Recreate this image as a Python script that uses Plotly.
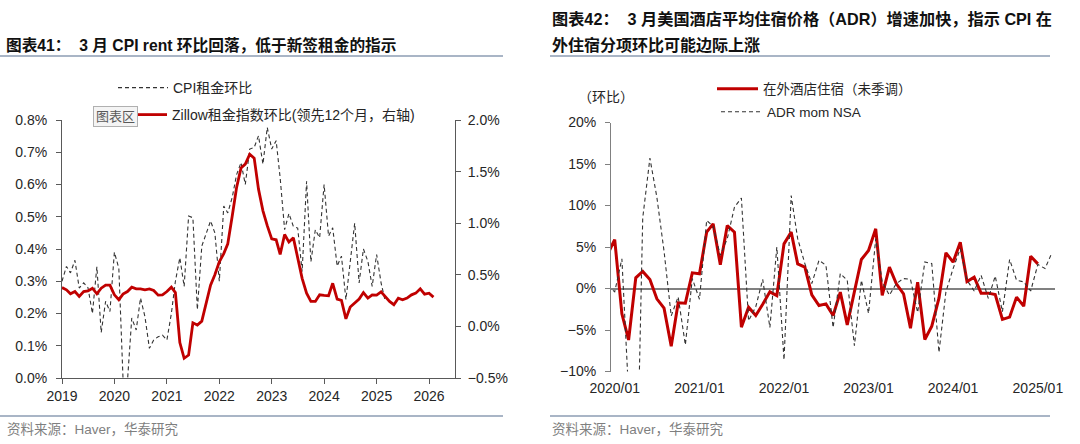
import pandas as pd
import plotly.graph_objects as go

# ---------------- data: left chart (monthly, from 2019-01) ----------------
cpi_rent_mom = [
    0.30, 0.346, 0.326, 0.365, 0.279, 0.295, 0.28, 0.20, 0.345, 0.141, 0.238, 0.206,
    0.39, 0.34, 0.00, -0.01, 0.186, 0.149, 0.248, 0.19, 0.092, 0.118, 0.128, 0.133,
    0.118, 0.20, 0.30, 0.373, 0.284, 0.502, 0.497, 0.212, 0.409, 0.45, 0.487, 0.45,
    0.30, 0.533, 0.512, 0.56, 0.63, 0.668, 0.60, 0.71, 0.715, 0.751, 0.663, 0.777,
    0.71, 0.736, 0.62, 0.46, 0.51, 0.47, 0.465, 0.33, 0.61, 0.36, 0.46, 0.435,
    0.60, 0.44, 0.466, 0.347, 0.378, 0.243, 0.362, 0.48, 0.295, 0.40, 0.362, 0.284,
    0.383, 0.295, 0.24,
]
zillow_mom_lead12 = [
    0.376, 0.354, 0.316, 0.338, 0.29, 0.338, 0.344, 0.37, 0.316, 0.37, 0.40, 0.40,
    0.306, 0.258, 0.313, 0.338, 0.38, 0.364, 0.364, 0.354, 0.364, 0.348, 0.303, 0.306,
    0.338, 0.38, 0.328, -0.156, -0.309, -0.278, 0.035, 0.013, 0.051, 0.226, 0.40, 0.50,
    0.625, 0.705, 0.80, 1.07, 1.343, 1.534, 1.573, 1.668, 1.63, 1.33, 1.12, 0.976,
    0.848, 0.839, 0.698, 0.89, 0.817, 0.858, 0.673, 0.466, 0.322, 0.242, 0.242, 0.306,
    0.30, 0.297, 0.418, 0.265, 0.252, 0.073, 0.188, 0.227, 0.265, 0.328, 0.274, 0.306,
    0.303, 0.335, 0.29, 0.242, 0.21, 0.274, 0.258, 0.274, 0.306, 0.322, 0.364, 0.313,
    0.322, 0.284,
]
cpi_dates = pd.date_range("2019-01-01", periods=len(cpi_rent_mom), freq="MS")
zillow_dates = pd.date_range("2019-01-01", periods=len(zillow_mom_lead12), freq="MS")

# ---------------- data: right chart (monthly, from 2019-12) ----------------
lodging_nsa = [
    4.1, 5.9, -3.05, -6.2, 1.29, 2.05, 1.08, -1.24, -2.37, -6.95, -1.73, -1.77, 1.89,
    1.77, 6.79, 7.79, 2.85, 7.59, 6.79, -4.66, -2.25, -3.25, -1.9, -0.4, -0.85,
    5.38, 6.79, 2.97, 2.57, -0.76, -2.05, -1.85, -3.25, -0.44, -4.38, -0.4, 3.49,
    4.58, 7.19, -0.84, 2.57, 0.56, -0.64, -4.78, 0.76, -6.14, -4.54, -1.16, 4.3,
    3.17, 5.58, 0.84, 1.37, -0.56, -0.56, -0.72, -3.73, -3.45, -1.04, -2.13, 3.89,
    2.97,
]
adr_mom_nsa = [
    0.3, -0.4, 3.57, -13.0, -30.0, 8.5, 15.7, 11.0, 4.5, -3.3, -1.0, -6.8, 1.2,
    -1.3, 8.2, 7.5, 4.0, 6.0, 9.8, 10.9, -3.9, -2.2, 1.1, -4.7, 5.0,
    -8.6, 11.2, 6.0, 3.0, 0.6, 3.4, 2.8, -4.7, 1.8, 1.0, -6.9, 1.0,
    -3.0, 6.0, 0.8, -0.8, 0.6, 1.2, 1.1, -2.9, 3.2, 3.0, -7.7, -0.4,
    2.4, 4.8, 1.0, -0.3, 1.6, -1.2, 1.5, -2.8, 3.5, 1.0, 0.8, -0.3,
    2.9, 2.4, 4.2,
]
lodging_dates = pd.date_range("2019-12-01", periods=len(lodging_nsa), freq="MS")
adr_dates = pd.date_range("2019-12-01", periods=len(adr_mom_nsa), freq="MS")

# ---------------- helpers ----------------
W, H = 1080, 444
def px(x):
    return x / W
def py(y):
    return 1 - y / H

FONT = "Liberation Sans, Arial, Noto Sans CJK SC, sans-serif"
RED = "#C00000"
AX = "#595959"
TXT = "#262626"

fig = go.Figure()

fig.add_trace(go.Scatter(
    x=cpi_dates, y=cpi_rent_mom, name="CPI租金环比", mode="lines",
    line=dict(color="#333333", width=1.1, dash="4px,3px"),
    xaxis="x", yaxis="y", legend="legend", showlegend=True,
))
fig.add_trace(go.Scatter(
    x=zillow_dates, y=zillow_mom_lead12, name="Zillow租金指数环比(领先12个月，右轴)",
    mode="lines", line=dict(color=RED, width=2.8),
    xaxis="x", yaxis="y2", legend="legend2", showlegend=True,
))
fig.add_trace(go.Scatter(
    x=lodging_dates, y=lodging_nsa, name="在外酒店住宿（未季调）", mode="lines",
    line=dict(color=RED, width=3),
    xaxis="x2", yaxis="y3", legend="legend3", showlegend=True,
))
fig.add_trace(go.Scatter(
    x=adr_dates, y=adr_mom_nsa, name="ADR mom NSA", mode="lines",
    line=dict(color="#333333", width=1.1, dash="4px,3px"),
    xaxis="x2", yaxis="y3", legend="legend4", showlegend=True,
))

axis_common = dict(showgrid=False, zeroline=False, automargin=False,
                   tickfont=dict(size=14, color=TXT, family=FONT))

fig.update_layout(
    width=W, height=H, showlegend=True,
    margin=dict(l=0, r=0, t=0, b=0, autoexpand=False),
    paper_bgcolor="white", plot_bgcolor="white",
    font=dict(family=FONT, color=TXT),
    xaxis=dict(
        domain=[px(62), px(455)], type="date",
        range=["2019-01-01", "2026-07-01"],
        tick0="2019-01-01", dtick="M12", tickformat="%Y",
        ticks="outside", ticklen=5, tickcolor=AX,
        showline=True, linecolor=AX, linewidth=1, anchor="y",
        **axis_common,
    ),
    yaxis=dict(
        domain=[py(378), py(120)], range=[0, 0.8], dtick=0.1,
        tickformat=".1f", ticksuffix="%",
        ticks="outside", ticklen=5, tickcolor=AX, ticklabelstandoff=6,
        showline=True, linecolor=AX, linewidth=1, anchor="x",
        **axis_common,
    ),
    yaxis2=dict(
        overlaying="y", side="right", anchor="x",
        range=[-0.5, 2.0], dtick=0.5, tickformat=".1f", ticksuffix="%",
        ticks="outside", ticklen=5, tickcolor=AX, ticklabelstandoff=4,
        showline=True, linecolor=AX, linewidth=1,
        **axis_common,
    ),
    xaxis2=dict(
        domain=[px(611), px(1055)], type="date",
        range=["2019-12-16", "2025-03-16"],
        tick0="2020-01-01", dtick="M12", tickformat="%Y/%m",
        ticks="outside", ticklen=4, tickcolor="rgba(0,0,0,0)",
        showline=False, anchor="y3",
        **axis_common,
    ),
    yaxis3=dict(
        domain=[py(371.5), py(122.5)], range=[-10, 20], dtick=5,
        ticksuffix="%", ticks="outside", ticklen=5, tickcolor="#808080",
        ticklabelstandoff=6, automargin=False,
        showline=True, linecolor="#808080", linewidth=1, anchor="x2",
        showgrid=False, tickfont=dict(size=14, color=TXT, family=FONT),
        zeroline=True, zerolinecolor="#808080", zerolinewidth=1.5,
    ),
    legend=dict(x=px(113), y=py(88), xanchor="left", yanchor="middle", itemwidth=50,
                bgcolor="rgba(0,0,0,0)", font=dict(size=14, color=TXT, family=FONT)),
    legend2=dict(x=px(132), y=py(115), xanchor="left", yanchor="middle",
                 bgcolor="rgba(0,0,0,0)", font=dict(size=14, color=TXT, family=FONT)),
    legend3=dict(x=px(712), y=py(89), xanchor="left", yanchor="middle", itemwidth=41,
                 bgcolor="rgba(0,0,0,0)", font=dict(size=13.5, color=TXT, family=FONT)),
    legend4=dict(x=px(716), y=py(112), xanchor="left", yanchor="middle", itemwidth=41,
                 bgcolor="rgba(0,0,0,0)", font=dict(size=13.5, color=TXT, family=FONT)),
)

# ---------------- titles, notes, separators ----------------
ann = []
ann.append(dict(text="<b>图表41：  3 月 CPI rent 环比回落，低于新签租金的指示</b>",
                x=px(4), y=py(45), xanchor="left", yanchor="middle",
                font=dict(size=15.7, color="#111111", family=FONT)))
ann.append(dict(text="<b>图表42：  3 月美国酒店平均住宿价格（ADR）增速加快，指示 CPI 在</b>",
                x=px(550), y=py(19), xanchor="left", yanchor="middle",
                font=dict(size=16.2, color="#111111", family=FONT)))
ann.append(dict(text="<b>外住宿分项环比可能边际上涨</b>",
                x=px(550), y=py(45), xanchor="left", yanchor="middle",
                font=dict(size=16, color="#111111", family=FONT)))
ann.append(dict(text="资料来源：Haver，华泰研究", x=px(5), y=py(429),
                xanchor="left", yanchor="middle",
                font=dict(size=13.5, color="#7F7F7F", family=FONT)))
ann.append(dict(text="资料来源：Haver，华泰研究", x=px(550), y=py(429),
                xanchor="left", yanchor="middle",
                font=dict(size=13.5, color="#7F7F7F", family=FONT)))
ann.append(dict(text="（环比）", x=px(606), y=py(97), xanchor="center", yanchor="middle",
                font=dict(size=14, color=TXT, family=FONT)))
ann.append(dict(text="图表区", x=px(115), y=py(116.5), xanchor="center", yanchor="middle",
                font=dict(size=13, color="#595959", family=FONT),
                bgcolor="#F4F4F4", bordercolor="#B0B0B0", borderwidth=1, borderpad=2))
for a in ann:
    a.update(xref="paper", yref="paper", showarrow=False)
fig.update_layout(annotations=ann)

line_col = "#8C9CB3"
shapes = []
for (x0, x1, y) in [(0, 503, 56), (0, 503, 416), (550, 1050, 56), (550, 1050, 416)]:
    shapes.append(dict(type="line", xref="paper", yref="paper",
                       x0=px(x0), x1=px(x1), y0=py(y), y1=py(y),
                       line=dict(color=line_col, width=1.5)))
fig.update_layout(shapes=shapes)

fig.write_html("out.html", config={"displayModeBar": False},
               post_script="document.body.style.margin='0px';")
